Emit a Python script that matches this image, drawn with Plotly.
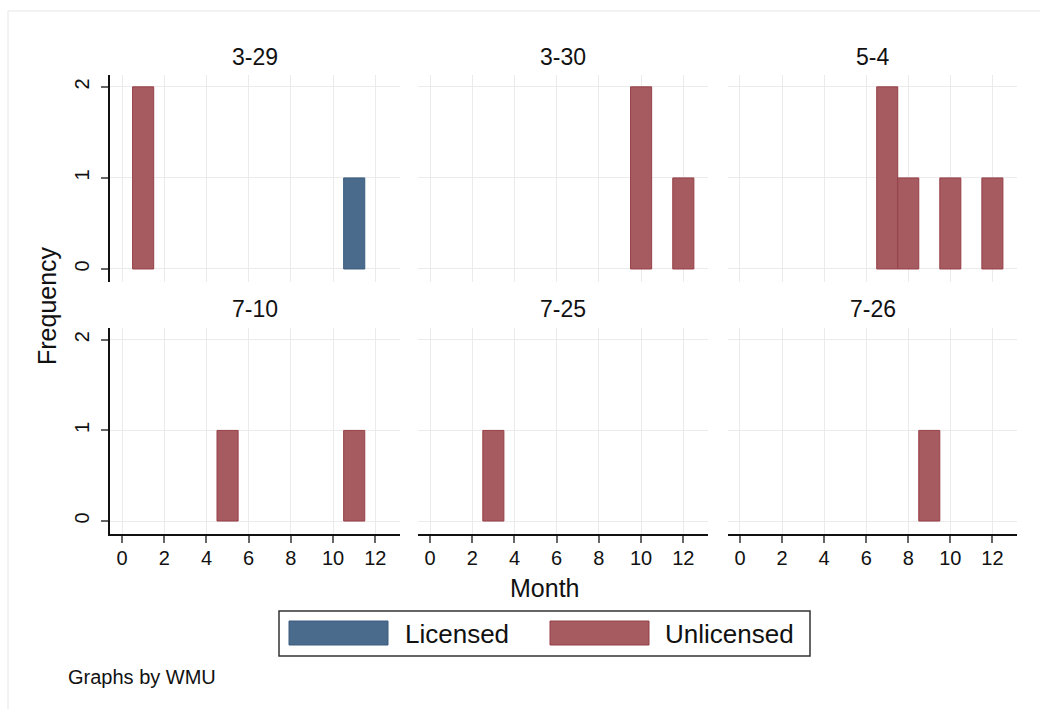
import plotly.graph_objects as go

# ---------------- data ----------------
panel_labels = ["3-29", "3-30", "5-4", "7-10", "7-25", "7-26"]
licensed_month = [[11], [], [], [], [], []]
licensed_freq = [[1], [], [], [], [], []]
unlicensed_month = [[1], [10, 12], [7, 8, 10, 12], [5, 11], [3], [9]]
unlicensed_freq = [[2], [2, 1], [2, 1, 1, 1], [1, 1], [1], [1]]
x_ticks = [0, 2, 4, 6, 8, 10, 12]
y_ticks = [0, 1, 2]
series_names = ["Licensed", "Unlicensed"]

# ---------------- styling ----------------
W, H = 1040, 709
FONT = "Arial, Liberation Sans, sans-serif"
BLUE_FILL, BLUE_LINE = "#4a6b8b", "#3a5d80"
RED_FILL, RED_LINE = "#a55b60", "#973f47"
GRID = "#ebebeb"

col_px = [(110, 400), (418, 708), (728, 1017)]
row_px = [(75, 282), (328, 534)]


def px_x(p):
    return p / W


def px_y(p):
    return 1 - p / H


fig = go.Figure()
layout = dict(
    width=W, height=H,
    margin=dict(l=0, r=0, t=0, b=0),
    paper_bgcolor="white", plot_bgcolor="white",
    barmode="overlay", showlegend=False,
    font=dict(family=FONT, color="#111111"),
)

annotations = []
shapes = []

for i, label in enumerate(panel_labels):
    r, c = divmod(i, 3)
    n = i + 1
    xa = "x" if n == 1 else f"x{n}"
    ya = "y" if n == 1 else f"y{n}"
    if licensed_month[i]:
        fig.add_trace(go.Bar(x=licensed_month[i], y=licensed_freq[i], width=1,
                             marker=dict(color=BLUE_FILL, line=dict(color=BLUE_LINE, width=1)),
                             name=series_names[0], xaxis=xa, yaxis=ya))
    if unlicensed_month[i]:
        fig.add_trace(go.Bar(x=unlicensed_month[i], y=unlicensed_freq[i], width=1,
                             marker=dict(color=RED_FILL, line=dict(color=RED_LINE, width=1)),
                             name=series_names[1], xaxis=xa, yaxis=ya))

    x0, x1 = col_px[c]
    y0, y1 = row_px[r]
    bottom = (r == 1)
    left = (c == 0)
    xkey = "xaxis" if n == 1 else f"xaxis{n}"
    ykey = "yaxis" if n == 1 else f"yaxis{n}"
    layout[xkey] = dict(
        domain=[px_x(x0), px_x(x1)], anchor=ya, range=[-0.57, 13.17],
        tickvals=x_ticks, showgrid=True, gridcolor=GRID, gridwidth=1,
        zeroline=False, showline=bottom, linecolor="#111111", linewidth=1.5,
        ticks="outside" if bottom else "", ticklen=7, tickcolor="#666666", tickwidth=1.5,
        showticklabels=bottom, tickfont=dict(size=20, family=FONT, color="#111111"),
        ticklabelstandoff=-2, automargin=False, fixedrange=True,
    )
    layout[ykey] = dict(
        domain=[px_y(y1), px_y(y0)], anchor=xa, range=[-0.143, 2.13],
        tickvals=y_ticks, showgrid=True, gridcolor=GRID, gridwidth=1,
        zeroline=False, showline=left, linecolor="#111111", linewidth=1.5,
        ticks="outside" if left else "", ticklen=7, tickcolor="#666666", tickwidth=1.5,
        showticklabels=left, tickangle=-90,
        tickfont=dict(size=20, family=FONT, color="#111111"),
        ticklabelstandoff=4, automargin=False, fixedrange=True,
    )
    annotations.append(dict(
        text=label, x=px_x((x0 + x1) / 2), y=px_y(57 if r == 0 else 309),
        xref="paper", yref="paper", showarrow=False, xanchor="center", yanchor="middle",
        font=dict(size=23, family=FONT, color="#111111"),
    ))

# axis titles
annotations.append(dict(text="Month", x=px_x(544), y=px_y(588), xref="paper", yref="paper",
                        showarrow=False, xanchor="center", yanchor="middle",
                        font=dict(size=25, family=FONT, color="#111111")))
annotations.append(dict(text="Frequency", x=px_x(47), y=px_y(306), xref="paper", yref="paper",
                        showarrow=False, xanchor="center", yanchor="middle", textangle=-90,
                        font=dict(size=25, family=FONT, color="#111111")))
annotations.append(dict(text="Graphs by WMU", x=px_x(66), y=px_y(677), xref="paper", yref="paper",
                        showarrow=False, xanchor="left", yanchor="middle",
                        font=dict(size=20, family=FONT, color="#111111")))

# legend (drawn manually to match the wide swatches)
shapes.append(dict(type="rect", xref="paper", yref="paper",
                   x0=px_x(279), x1=px_x(810), y0=px_y(656), y1=px_y(611),
                   line=dict(color="#333333", width=1.5), fillcolor="white"))
shapes.append(dict(type="rect", xref="paper", yref="paper",
                   x0=px_x(289), x1=px_x(388), y0=px_y(645), y1=px_y(621),
                   line=dict(color=BLUE_LINE, width=1), fillcolor=BLUE_FILL))
shapes.append(dict(type="rect", xref="paper", yref="paper",
                   x0=px_x(550), x1=px_x(649), y0=px_y(645), y1=px_y(621),
                   line=dict(color=RED_LINE, width=1), fillcolor=RED_FILL))
annotations.append(dict(text=series_names[0], x=px_x(403), y=px_y(634), xref="paper", yref="paper",
                        showarrow=False, xanchor="left", yanchor="middle",
                        font=dict(size=26, family=FONT, color="#111111")))
annotations.append(dict(text=series_names[1], x=px_x(663), y=px_y(634), xref="paper", yref="paper",
                        showarrow=False, xanchor="left", yanchor="middle",
                        font=dict(size=26, family=FONT, color="#111111")))

# outer frame
shapes.append(dict(type="rect", xref="paper", yref="paper",
                   x0=px_x(8), x1=1.02, y0=-0.02, y1=px_y(11),
                   line=dict(color="#e6e6e6", width=1), fillcolor="rgba(0,0,0,0)", layer="below"))

layout["annotations"] = annotations
layout["shapes"] = shapes
fig.update_layout(**layout)

fig.write_html("out.html", config={"displayModeBar": False})

# remove the default page margin so the figure sits at the window origin
with open("out.html", "r", encoding="utf-8") as f:
    html = f.read()
html = html.replace("<body>", '<body style="margin:0;padding:0;overflow:hidden">', 1)
html = html.replace("<head>", '<head><style>html,body{margin:0;padding:0;}</style>', 1)
with open("out.html", "w", encoding="utf-8") as f:
    f.write(html)
